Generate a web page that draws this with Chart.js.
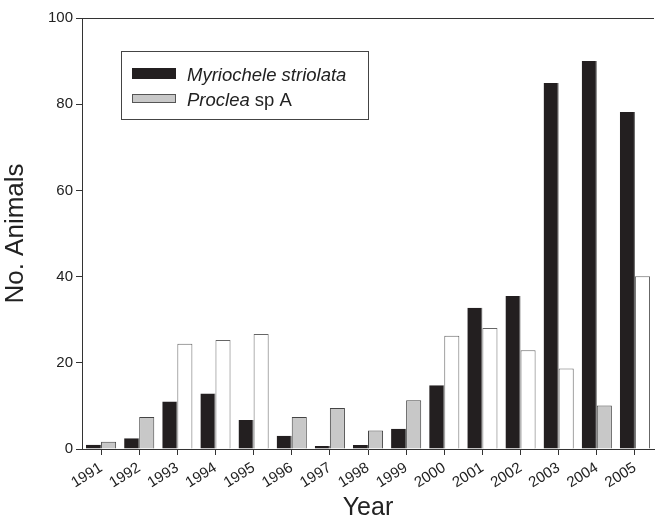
<!DOCTYPE html>
<html>
<head>
<meta charset="utf-8">
<script src="https://cdn.jsdelivr.net/npm/chart.js@4/dist/chart.umd.min.js"></script>
<style>
html, body { margin: 0; padding: 0; background: #fff; }
#wrap { width: 655px; height: 523px; }
</style>
</head>
<body>
<div id="wrap"><canvas id="grafico" width="655" height="523"></canvas></div>
<script>
// data
const years = ["1991","1992","1993","1994","1995","1996","1997","1998","1999","2000","2001","2002","2003","2004","2005"];
const myriochele = [1.0, 2.5, 11.0, 12.9, 6.7, 3.1, 0.7, 0.9, 4.7, 14.8, 32.8, 35.5, 84.9, 90.0, 78.2];
const proclea = [1.7, 7.4, 24.4, 25.3, 26.7, 7.4, 9.5, 4.3, 11.3, 26.3, 28.1, 22.9, 18.7, 10.1, 40.1];
const yTicks = [0, 20, 40, 60, 80, 100];

// proclea bars are grey in some years, open in others
const procleaOpen = [false, false, true, true, true, false, false, false, false, true, true, true, true, false, true];

const FONT = "'Liberation Sans', Arial, sans-serif";
const BLACK = "#231f20";
const GREY = "#c8c8c8";

const legendBox = {
    id: "legendBox",
    afterDraw(chart) {
        const c = chart.ctx;
        const a = chart.chartArea;
        c.save();
        // top frame line
        c.strokeStyle = "#333";
        c.lineWidth = 1;
        c.beginPath();
        c.moveTo(a.left, a.top + 0.5);
        c.lineTo(a.right, a.top + 0.5);
        c.stroke();

        // legend frame
        c.strokeStyle = "#444";
        c.strokeRect(121.5, 51.5, 247, 68);

        c.fillStyle = BLACK;
        c.fillRect(132, 68, 44, 11);
        c.fillStyle = GREY;
        c.fillRect(132, 94, 44, 9);
        c.strokeStyle = "#555";
        c.strokeRect(132.5, 94.5, 43, 8);

        c.fillStyle = "#222";
        c.textBaseline = "alphabetic";
        c.font = "italic 18.5px " + FONT;
        c.fillText("Myriochele striolata", 187, 81);
        c.fillText("Proclea", 187, 106);
        const w = c.measureText("Proclea").width;
        c.font = "18.5px " + FONT;
        c.fillText(" sp A", 187 + w, 106);
        c.restore();
    }
};

const ctx = document.getElementById("grafico");

const grafico = new Chart(ctx, {
    type: "bar",
    data: {
        labels: years,
        datasets: [
            {
                label: "Myriochele striolata",
                data: myriochele,
                backgroundColor: BLACK,
                borderColor: "#555",
                borderWidth: { right: 1 },
                categoryPercentage: 0.79,
                barPercentage: 1.0
            },
            {
                label: "Proclea sp A",
                data: proclea,
                backgroundColor: procleaOpen.map(o => o ? "#ffffff" : GREY),
                borderColor: procleaOpen.map(o => o ? "#666" : "#444"),
                borderWidth: 1,
                categoryPercentage: 0.79,
                barPercentage: 1.0
            }
        ]
    },
    options: {
        responsive: false,
        animation: false,
        layout: { padding: { top: 18, right: 1, left: 0, bottom: 0 } },
        plugins: {
            legend: { display: false },
            tooltip: { enabled: false }
        },
        scales: {
            x: {
                offset: true,
                grid: {
                    display: true,
                    offset: false,
                    drawOnChartArea: false,
                    drawTicks: true,
                    tickLength: 6,
                    color: "#333"
                },
                border: { color: "#333", width: 1 },
                ticks: {
                    autoSkip: false,
                    minRotation: 32,
                    maxRotation: 32,
                    padding: 4,
                    color: "#222",
                    font: { family: FONT, size: 15 }
                },
                title: {
                    display: true,
                    text: "Year",
                    color: "#222",
                    padding: { top: 2, bottom: 0 },
                    font: { family: FONT, size: 25 }
                },
                afterFit(scale) { scale.height = 74; }
            },
            y: {
                min: 0,
                max: 100,
                afterBuildTicks(scale) {
                    scale.ticks = yTicks.map(v => ({ value: v }));
                },
                grid: {
                    display: true,
                    drawOnChartArea: false,
                    drawTicks: true,
                    tickLength: 6,
                    color: "#333"
                },
                border: { color: "#333", width: 1 },
                ticks: {
                    padding: 3,
                    color: "#222",
                    font: { family: FONT, size: 15 }
                },
                title: {
                    display: true,
                    text: "No. Animals",
                    color: "#222",
                    padding: { top: 0, bottom: 4 },
                    font: { family: FONT, size: 26 }
                },
                afterFit(scale) { scale.width = 82; }
            }
        }
    },
    plugins: [legendBox]
});
</script>
</body>
</html>
